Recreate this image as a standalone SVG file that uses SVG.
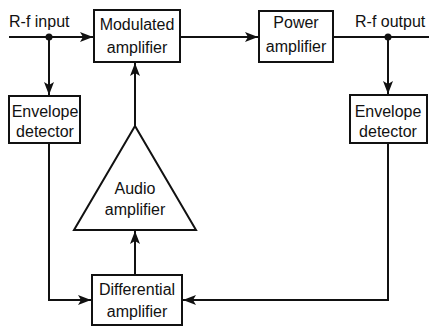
<svg xmlns="http://www.w3.org/2000/svg" width="429" height="327" viewBox="0 0 429 327">
<style>
.box{fill:#fff;stroke:#111;stroke-width:2}
.ln{fill:none;stroke:#111;stroke-width:2}
.t{font-family:"Liberation Sans",Arial,sans-serif;font-size:16px;fill:#111;text-anchor:middle}
.tl{font-family:"Liberation Sans",Arial,sans-serif;font-size:16px;fill:#111}
</style>
<defs>
<marker id="arr" markerUnits="userSpaceOnUse" markerWidth="14" markerHeight="12" refX="13" refY="5" orient="auto">
<path d="M0,0 L13,5 L0,10 L3,5 z" fill="#111"/>
</marker>
</defs>
<g id="connectors">
<path class="ln" d="M9,37 H93" marker-end="url(#arr)"/>
<path class="ln" d="M49,37 V95" marker-end="url(#arr)"/>
<path class="ln" d="M180,37 H258" marker-end="url(#arr)"/>
<path class="ln" d="M333,37 H429"/>
<path class="ln" d="M388,37 V94" marker-end="url(#arr)"/>
<path class="ln" d="M49,143 V300 H91" marker-end="url(#arr)"/>
<path class="ln" d="M388,143 V300 H183" marker-end="url(#arr)"/>
<path class="ln" d="M135,275 V231" marker-end="url(#arr)"/>
<path class="ln" d="M135,126 V63" marker-end="url(#arr)"/>
<circle cx="49" cy="37" r="3.5" fill="#111"/>
<circle cx="388" cy="37" r="3.5" fill="#111"/>
</g>
<g id="rf-input"><text class="tl" x="9" y="27">R-f input</text></g>
<g id="rf-output"><text class="tl" x="355" y="27">R-f output</text></g>
<g id="modulated-amplifier">
<rect class="box" x="94" y="10" width="86" height="52"/>
<text class="t" x="137" y="30">Modulated</text>
<text class="t" x="137" y="53">amplifier</text>
</g>
<g id="power-amplifier">
<rect class="box" x="259" y="11" width="74" height="51"/>
<text class="t" x="296" y="28">Power</text>
<text class="t" x="296" y="52">amplifier</text>
</g>
<g id="envelope-detector-left">
<rect class="box" x="9" y="96" width="71" height="47"/>
<text class="t" x="45" y="117">Envelope</text>
<text class="t" x="45" y="137">detector</text>
</g>
<g id="envelope-detector-right">
<rect class="box" x="350" y="95" width="77" height="48"/>
<text class="t" x="388" y="117">Envelope</text>
<text class="t" x="388" y="137">detector</text>
</g>
<g id="audio-amplifier">
<polygon class="box" points="135,126 74,230 196,230"/>
<text class="t" x="135" y="194">Audio</text>
<text class="t" x="135" y="215">amplifier</text>
</g>
<g id="differential-amplifier">
<rect class="box" x="92" y="275" width="90" height="50"/>
<text class="t" x="137" y="295">Differential</text>
<text class="t" x="137" y="317">amplifier</text>
</g>
</svg>
